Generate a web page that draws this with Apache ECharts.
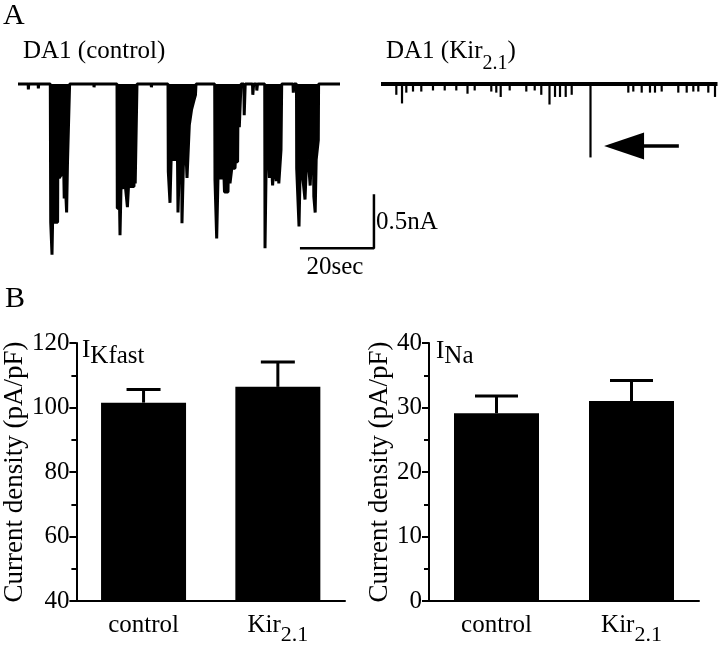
<!DOCTYPE html>
<html><head><meta charset="utf-8">
<script src="https://cdn.jsdelivr.net/npm/echarts@6/dist/echarts.min.js"></script>
<style>html,body{margin:0;padding:0;background:#fff}#c{width:720px;height:646px}</style>
</head><body><div id="c"></div>
<script>
// ---------- DATA ----------
// Panel A, DA1 control recording: [time (s), current (nA)] outline of the trace
const controlTrace = [
  [0,0],[2.75,0],[2.8,-0.05],[2.9,0],[5.45,0],[5.5,-0.04],[5.6,0],
  [8.73,0],[8.84,-1.28],[9.08,-1.28],[9.19,-1.58],[9.35,-1.28],[10.70,-1.28],[10.81,-0.21],[11.03,-0.21],[11.14,-0.87],[11.57,-0.87],[11.68,-0.84],[12.38,-0.84],[12.49,-1.06],[12.65,-1.06],[12.76,-0.89],[13.05,-0.89],[13.14,-1.19],[13.27,-1.19],[13.38,-0.72],[13.86,-0.72],[13.95,0],
  [20.5,0],[20.55,-0.03],[20.65,0],
  [26.76,0],[26.84,-1.15],[27.46,-1.15],[27.57,-1.40],[27.73,-1.40],[27.84,-0.96],[28.51,-0.96],[28.65,-0.77],[28.92,-0.77],[29.00,-0.94],[29.46,-0.94],[29.57,-1.14],[29.78,-1.14],[29.86,-0.95],[31.35,-0.95],[31.43,-0.49],[31.57,-0.49],[31.68,-0.92],[32.08,-0.92],[32.16,0],
  [36.0,0],[36.05,-0.03],[36.15,0],
  [40.54,0],[40.62,-0.81],[40.95,-0.81],[41.08,-1.10],[41.35,-1.10],[41.43,-0.64],[41.89,-0.64],[41.97,-0.70],[43.11,-0.70],[43.24,-1.19],[43.51,-1.19],[43.59,-0.78],[44.27,-0.78],[44.32,-1.29],[44.59,-1.29],[44.68,-0.77],[45.14,-0.77],[45.22,-0.49],[45.59,-0.49],[45.68,-0.87],[46.22,-0.87],[46.30,-0.38],[46.89,-0.24],[47.57,-0.15],[47.97,-0.10],[48.11,0],
  [53.16,0],[53.24,-0.89],[53.57,-0.89],[53.70,-1.43],[53.92,-1.43],[54.05,-0.87],[55.68,-0.87],[55.81,-1.00],[56.76,-1.00],[56.84,-0.81],[57.24,-0.81],[57.30,-0.92],[57.70,-0.92],[57.78,-0.78],[58.65,-0.78],[58.73,-0.72],[59.35,-0.72],[59.46,-0.22],[59.73,-0.22],[59.81,-0.40],[60.14,-0.40],[60.27,0],
  [61.03,0],[61.14,-0.29],[61.30,-0.29],[61.41,0],[63.38,0],[63.46,-0.10],[63.62,-0.10],[63.70,0],[64.46,0],[64.54,-0.06],[64.65,-0.06],[64.73,0],
  [66.68,0],[66.76,-1.52],[66.97,-1.52],[67.08,-0.72],[67.57,-0.72],[67.65,-0.61],[67.84,-0.61],[67.95,-0.87],[68.38,-0.87],[68.46,-0.70],[68.73,-0.70],[68.81,-0.94],[69.19,-0.94],[69.27,-0.69],[69.73,-0.69],[69.81,-0.90],[70.14,-0.90],[70.22,-0.69],[70.41,-0.69],[70.49,-0.92],[70.95,-0.92],[71.08,-0.61],[71.27,0],
  [74.32,0],[74.41,-0.08],[74.54,-0.08],[74.59,0],
  [75.27,0],[75.32,-0.78],[75.81,-0.78],[75.95,-1.32],[76.16,-1.32],[76.27,-0.78],[76.89,-0.78],[76.97,-0.87],[77.43,-0.87],[77.57,-1.07],[77.78,-1.07],[77.89,-0.80],[78.38,-0.80],[78.46,-0.70],[78.86,-0.70],[78.97,-0.94],[79.19,-0.94],[79.30,-0.66],[79.86,-0.66],[79.95,-1.04],[80.22,-1.04],[80.32,-1.19],[80.49,-1.19],[80.59,-0.70],[81.16,-0.52],[81.24,0],
  [87.03,0]
];
// Panel A, DA1 Kir2.1 recording: spike times (s) and amplitudes (nA)
const kirDuration = 90.95;
const kirSpikeTimes = [4.14,5.68,6.84,8.65,10.89,14.05,17.22,20.35,23.38,25.32,29.81,31.16,32.35,34.78,39.27,41.54,43.32,45.54,47.03,48.38,49.92,51.54,56.62,66.84,68.19,70.46,72.70,74.05,75.86,80.35,82.62,84.41,85.76,88.46,90.27];
const kirSpikeAmps  = [-0.10,-0.18,-0.08,-0.07,-0.07,-0.06,-0.06,-0.06,-0.09,-0.06,-0.07,-0.08,-0.12,-0.06,-0.07,-0.06,-0.10,-0.19,-0.12,-0.12,-0.12,-0.10,-0.68,-0.08,-0.07,-0.08,-0.08,-0.08,-0.07,-0.08,-0.08,-0.07,-0.07,-0.08,-0.12];
// arrow pointing at the large Kir2.1 event: [time (s), current (nA)]
const arrowTail = [80.5, -0.574];
const arrowHead = [65.7, -0.574];
// scale bar
const scaleBarTime = 20;      // s
const scaleBarCurrent = 0.5;  // nA
const scaleBarCorner = [96.2, -1.52];

// Panel B
const categories = ['control', 'Kir2.1'];
const ikfastMean = [101.5, 106.4];
const ikfastSem  = [4.1, 7.7];
const inaMean = [29.1, 31.0];
const inaSem  = [2.7, 3.2];
const ikfastTicks = {min: 40, max: 120, interval: 20};
const inaTicks = {min: 0, max: 40, interval: 10};

// ---------- CHART ----------
const FONT = 'Liberation Serif';
const chart = echarts.init(document.getElementById('c'), null, {renderer: 'canvas'});

const scaleBarData = [
  [scaleBarCorner[0] - scaleBarTime, scaleBarCorner[1]],
  [scaleBarCorner[0], scaleBarCorner[1]],
  [scaleBarCorner[0], scaleBarCorner[1] + scaleBarCurrent]
];

function errRender(capW) {
  return function (params, api) {
    const top = api.coord([api.value(0), api.value(1)]);
    const base = api.coord([api.value(0), api.value(2)]);
    return {type: 'group', children: [
      {type: 'line', shape: {x1: top[0], y1: top[1], x2: base[0], y2: base[1]}, style: {stroke: '#000', lineWidth: 3}},
      {type: 'line', shape: {x1: top[0] - capW / 2, y1: top[1], x2: top[0] + capW / 2, y2: top[1]}, style: {stroke: '#000', lineWidth: 3}}
    ]};
  };
}

const richLab = {
  a: {fontSize: 25, fontFamily: FONT, color: '#000', lineHeight: 41},
  s: {fontSize: 22, fontFamily: FONT, color: '#000', lineHeight: 22, padding: [19, 0, 0, 0]}
};
function catFormatter(v) {
  const m = /^(\D+)(\d.*)$/.exec(v);
  return m ? '{a|' + m[1] + '}{s|' + m[2] + '}' : '{a|' + v + '}';
}

const axisBlack = {lineStyle: {color: '#000', width: 2}};

function barXAxes(grid) {
  return [
    {type: 'category', gridIndex: grid, data: categories, position: 'bottom',
     axisLine: axisBlack, axisTick: {alignWithLabel: true, length: 7, lineStyle: {color: '#000', width: 2}},
     axisLabel: {formatter: catFormatter, rich: richLab, margin: 4, color: '#000', fontFamily: FONT}},
    {type: 'category', gridIndex: grid, data: categories, position: 'bottom',
     axisLine: {show: false}, axisTick: {length: 7, lineStyle: {color: '#000', width: 2}},
     axisLabel: {show: false}}
  ];
}
function barYAxis(grid, t, gap) {
  return {type: 'value', gridIndex: grid, min: t.min, max: t.max, interval: t.interval,
    name: 'Current density (pA/pF)', nameLocation: 'middle', nameGap: gap,
    nameTextStyle: {fontSize: 27, fontFamily: FONT, color: '#000'},
    axisLine: {show: true, lineStyle: {color: '#000', width: 2}},
    axisTick: {show: true, length: 7, lineStyle: {color: '#000', width: 2}},
    minorTick: {show: true, splitNumber: 2, length: 5, lineStyle: {color: '#000', width: 2}},
    axisLabel: {fontSize: 25, fontFamily: FONT, color: '#000', margin: 7},
    splitLine: {show: false}};
}

const option = {
  animation: false,
  backgroundColor: '#fff',
  textStyle: {fontFamily: FONT},
  grid: [
    {left: 18, top: 73.2, width: 356, height: 194.4},
    {left: 381, top: 73.2, width: 336, height: 194.4},
    {left: 72, top: 343, width: 273, height: 261},
    {left: 429, top: 343, width: 270, height: 261}
  ],
  xAxis: [
    {type: 'value', gridIndex: 0, min: 0, max: 356 / 3.7, show: false},
    {type: 'value', gridIndex: 1, min: 0, max: 336 / 3.7, show: false},
    ...barXAxes(2),
    ...barXAxes(3)
  ],
  yAxis: [
    {type: 'value', gridIndex: 0, min: -1.7, max: 0.1, show: false},
    {type: 'value', gridIndex: 1, min: -1.7, max: 0.1, show: false},
    barYAxis(2, ikfastTicks, 37),
    barYAxis(3, inaTicks, 36)
  ],
  series: [
    {type: 'line', xAxisIndex: 0, yAxisIndex: 0, data: controlTrace, symbol: 'none',
     lineStyle: {color: '#000', width: 3}, areaStyle: {color: '#000', opacity: 1}, silent: true},
    {type: 'line', xAxisIndex: 0, yAxisIndex: 0, data: scaleBarData, symbol: 'none',
     lineStyle: {color: '#000', width: 2.5}, silent: true},
    {type: 'line', xAxisIndex: 1, yAxisIndex: 1, data: [[0, 0], [kirDuration, 0]], symbol: 'none',
     lineStyle: {color: '#000', width: 4}, silent: true,
     markLine: {silent: true, animation: false, label: {show: false},
       lineStyle: {color: '#000', width: 3.5, type: 'solid'},
       symbol: ['none', 'triangle'], symbolSize: [27, 40],
       data: [[{coord: arrowTail}, {coord: arrowHead}]]}},
    {type: 'bar', xAxisIndex: 1, yAxisIndex: 1, barWidth: 2.2, silent: true,
     itemStyle: {color: '#000'},
     data: kirSpikeTimes.map((t, i) => [t, kirSpikeAmps[i]])},
    {type: 'bar', xAxisIndex: 2, yAxisIndex: 2, data: ikfastMean, barWidth: 85, itemStyle: {color: '#000'}, silent: true},
    {type: 'custom', xAxisIndex: 2, yAxisIndex: 2, z: 5, renderItem: errRender(34), silent: true,
     data: categories.map((c, i) => [i, ikfastMean[i] + ikfastSem[i], ikfastMean[i]])},
    {type: 'bar', xAxisIndex: 4, yAxisIndex: 3, data: inaMean, barWidth: 85, itemStyle: {color: '#000'}, silent: true},
    {type: 'custom', xAxisIndex: 4, yAxisIndex: 3, z: 5, renderItem: errRender(43), silent: true,
     data: categories.map((c, i) => [i, inaMean[i] + inaSem[i], inaMean[i]])}
  ],
  graphic: [
    {type: 'text', x: 3, y: 16, style: {text: 'A', fontSize: 30, fontFamily: FONT, fill: '#000', verticalAlign: 'middle'}},
    {type: 'text', x: 5, y: 299, style: {text: 'B', fontSize: 30, fontFamily: FONT, fill: '#000', verticalAlign: 'middle'}},
    {type: 'text', x: 23, y: 30, style: {text: '{a|DA1 (control)}', verticalAlign: 'top',
      rich: {a: {fontSize: 25, fontFamily: FONT, fill: '#000', lineHeight: 43}}}},
    {type: 'text', x: 386, y: 30, style: {text: '{a|DA1 (Kir}{s|2.1}{a|)}', verticalAlign: 'top',
      rich: {a: {fontSize: 25, fontFamily: FONT, fill: '#000', lineHeight: 43},
             s: {fontSize: 20, fontFamily: FONT, fill: '#000', lineHeight: 19, padding: [24, 0, 0, 0]}}}},
    {type: 'text', x: 335, y: 267, style: {text: '20sec', fontSize: 25, fontFamily: FONT, fill: '#000', align: 'center', verticalAlign: 'middle'}},
    {type: 'text', x: 376, y: 222, style: {text: '0.5nA', fontSize: 25, fontFamily: FONT, fill: '#000', verticalAlign: 'middle'}},
    {type: 'text', x: 82, y: 335.5, style: {text: '{i|I}{k|Kfast}', verticalAlign: 'top',
      rich: {i: {fontSize: 25, fontFamily: FONT, fill: '#000', lineHeight: 30},
             k: {fontSize: 25, fontFamily: FONT, fill: '#000', lineHeight: 25, padding: [12, 0, 0, 0]}}}},
    {type: 'text', x: 436, y: 336.5, style: {text: '{i|I}{k|Na}', verticalAlign: 'top',
      rich: {i: {fontSize: 25, fontFamily: FONT, fill: '#000', lineHeight: 30},
             k: {fontSize: 25, fontFamily: FONT, fill: '#000', lineHeight: 25, padding: [10, 0, 0, 0]}}}}
  ]
};
chart.setOption(option);
</script>
</body></html>
